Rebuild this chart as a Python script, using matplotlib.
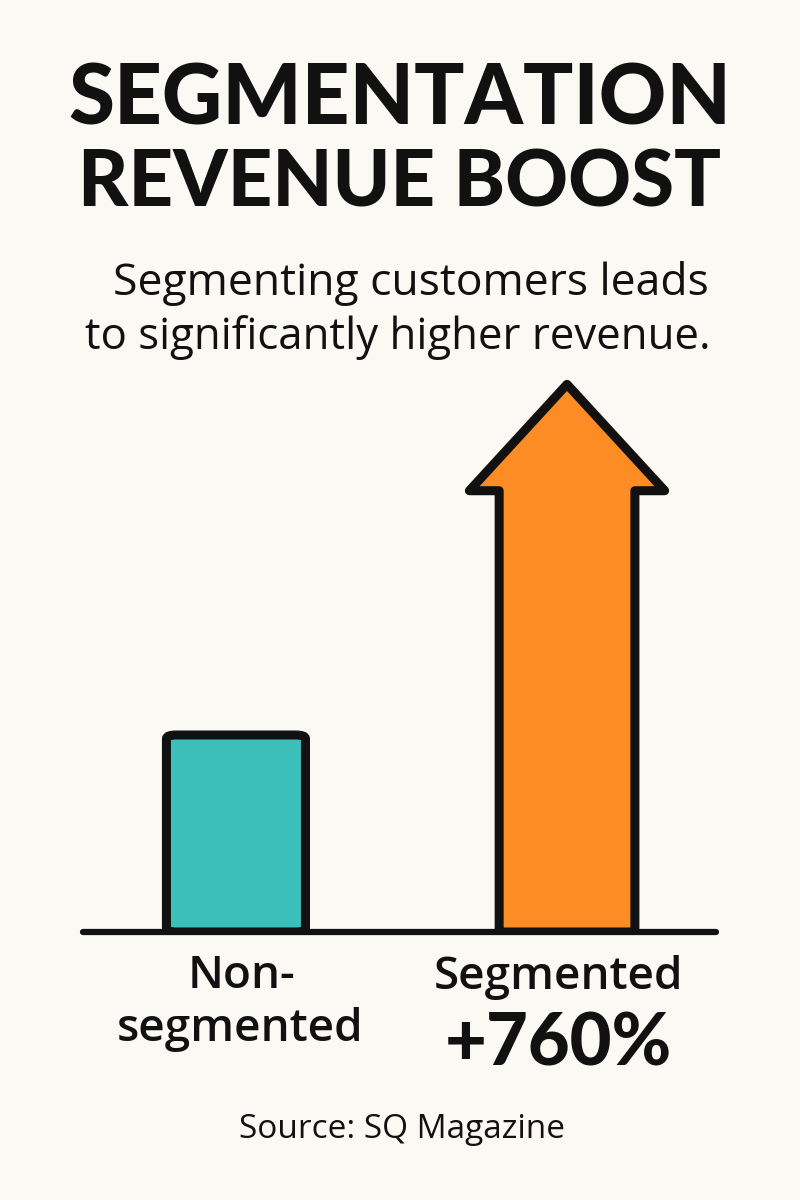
import matplotlib
matplotlib.use("Agg")
import matplotlib.pyplot as plt
from matplotlib.patches import FancyBboxPatch, Polygon

# ---- data (relative revenue heights) ----
categories = ["Non-\nsegmented", "Segmented"]
values = [1.0, 2.78]
change_label = "+760%"
title_lines = ["SEGMENTATION", "REVENUE BOOST"]
subtitle_lines = ["Segmenting customers leads", "to significantly higher revenue."]
source = "Source: SQ Magazine"

BG = "#FBF9F4"
TEAL = "#3DBFB9"
ORANGE = "#FD8C25"
INK = "#111111"

plt.rcParams['font.family'] = ['Open Sans', 'DejaVu Sans']
TITLE_FONT = ['Lato', 'DejaVu Sans']

fig = plt.figure(figsize=(8, 12), dpi=100, facecolor=BG)

W, H = 800.0, 1200.0
ax_left, ax_right = 83 / W, 716 / W
ax_bottom, ax_top = 1 - 932 / H, 1 - 372 / H
ax = fig.add_axes([ax_left, ax_bottom, ax_right - ax_left, ax_top - ax_bottom])
ax.set_facecolor(BG)
ax.set_xlim(-0.462, 1.45)
ax.set_ylim(0, 560 / 197)
ax.axis("off")

# baseline
ax.axhline(0, color=INK, lw=4.5, solid_capstyle="round", zorder=5, clip_on=False)

# non-segmented bar (rounded rectangle)
bw = 0.42
x0 = 0
bar = FancyBboxPatch((x0 - bw / 2, 0), bw, values[0],
                     boxstyle="round,pad=0,rounding_size=0.03",
                     mutation_aspect=1 / 1.6,
                     facecolor=TEAL, edgecolor=INK, lw=6.5,
                     joinstyle="round", zorder=3)
ax.add_patch(bar)

# segmented arrow
x1 = 1
shaft = 0.41
head = 0.59
head_len = 0.54
v = values[1]
pts = [
    (x1 - shaft / 2, 0),
    (x1 - shaft / 2, v - head_len),
    (x1 - head / 2, v - head_len),
    (x1, v),
    (x1 + head / 2, v - head_len),
    (x1 + shaft / 2, v - head_len),
    (x1 + shaft / 2, 0),
]
arrow = Polygon(pts, closed=True, facecolor=ORANGE, edgecolor=INK, lw=6.5,
                joinstyle="round", zorder=3)
ax.add_patch(arrow)

# ---- texts ----
def fy(px):
    return 1 - px / H

fig.text(0.5, fy(100), title_lines[0], ha="center", va="center",
         fontsize=60, fontweight="black", color=INK, family=TITLE_FONT)
fig.text(0.5, fy(184), title_lines[1], ha="center", va="center",
         fontsize=56, fontweight="black", color=INK, family=TITLE_FONT)

fig.text(411 / W, fy(284), subtitle_lines[0], ha="center", va="center",
         fontsize=32, color=INK)
fig.text(398 / W, fy(338), subtitle_lines[1], ha="center", va="center",
         fontsize=31.5, color=INK)

non_lines = categories[0].split("\n")
fig.text(242 / W, fy(976), non_lines[0], ha="center", va="center",
         fontsize=33, fontweight="semibold", color=INK)
fig.text(240 / W, fy(1030), non_lines[1], ha="center", va="center",
         fontsize=33, fontweight="semibold", color=INK)
fig.text(559 / W, fy(978), categories[1], ha="center", va="center",
         fontsize=33, fontweight="semibold", color=INK)
fig.text(558 / W, fy(1045), change_label, ha="center", va="center",
         fontsize=52, fontweight="black", color=INK, family=TITLE_FONT)

fig.text(402 / W, fy(1130), source, ha="center", va="center",
         fontsize=24, fontweight="normal", color=INK)

fig.savefig("out.png", dpi=100, facecolor=BG)
